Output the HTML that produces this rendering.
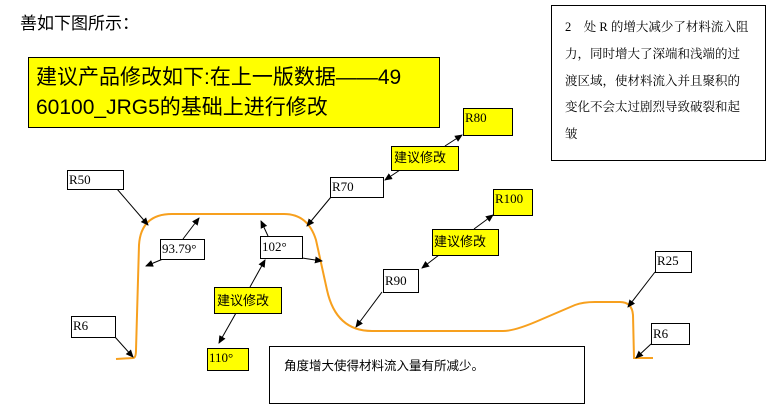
<!DOCTYPE html>
<html><head><meta charset="utf-8"><style>
html,body{margin:0;padding:0;background:#fff;}
svg{display:block;}
text{font-family:"Liberation Serif","Noto Serif CJK SC","Noto Sans CJK SC",serif;fill:#000;}
.cj{font-family:"Liberation Sans","Noto Sans CJK SC",sans-serif;}
</style></head><body>
<svg width="773" height="406" viewBox="0 0 773 406" xmlns="http://www.w3.org/2000/svg">
<defs><marker id="a" markerWidth="8" markerHeight="8" refX="7" refY="4" orient="auto" markerUnits="userSpaceOnUse"><path d="M0,0.5 L8,4 L0,7.5z" fill="#000"/></marker></defs>
<text x="20" y="29" font-size="17" class="cj">善如下图所示：</text>
<rect x="28.5" y="57.5" width="411" height="70" fill="#ffff00" stroke="#000"/>
<text x="36" y="84" font-size="21" class="cj">建议产品修改如下:在上一版数据——49</text>
<text x="36" y="114" font-size="21" class="cj">60100_JRG5的基础上进行修改</text>
<rect x="551.5" y="5.5" width="214" height="155" fill="#fff" stroke="#000"/>
<g font-size="12.5" class="cj">
<text x="565" y="31">2　处 R 的增大减少了材料流入阻</text>
<text x="565" y="58">力，同时增大了深端和浅端的过</text>
<text x="565" y="85">渡区域，使材料流入并且聚积的</text>
<text x="565" y="111">变化不会太过剧烈导致破裂和起</text>
<text x="565" y="138">皱</text>
</g>
<path d="M116,359 L133,358 Q136,358 136,350 L139,245 Q141,214 172,214 L284,214 Q308,214 316,240 L327,290 Q336,331 372,331 L503,331 Q515,331 540,320 L575,305 Q583,302 595,302 L620,302 Q632,302 633,315 L634,358 L653,358" fill="none" stroke="#f7a01e" stroke-width="2"/>
<rect x="269.5" y="346.5" width="315" height="57" fill="#fff" stroke="#000"/>
<text x="284" y="370" font-size="12.5" class="cj">角度增大使得材料流入量有所减少。</text>
<g stroke="#000" stroke-width="1" fill="none" marker-end="url(#a)">
<line x1="117" y1="189" x2="148" y2="225"/>
<line x1="183" y1="239" x2="199" y2="218"/>
<line x1="163" y1="259" x2="146" y2="266"/>
<line x1="268" y1="236" x2="261" y2="221"/>
<line x1="302" y1="258" x2="322" y2="261"/>
<line x1="250" y1="287" x2="265" y2="260"/>
<line x1="236" y1="313" x2="219" y2="343"/>
<line x1="331" y1="197" x2="307" y2="226"/>
<line x1="445" y1="146" x2="462" y2="135"/>
<line x1="400" y1="170" x2="385" y2="180"/>
<line x1="474" y1="229" x2="493" y2="215"/>
<line x1="439" y1="255" x2="422" y2="268"/>
<line x1="382" y1="292" x2="356" y2="327"/>
<line x1="655" y1="272" x2="628" y2="307"/>
<line x1="651" y1="344" x2="636" y2="358"/>
<line x1="115" y1="337" x2="133" y2="357"/>
</g>
<g stroke="#000" stroke-width="1">
<rect x="67.5" y="170.5" width="56" height="19" fill="#fff"/>
<rect x="160.5" y="239.5" width="44" height="20" fill="#fff"/>
<rect x="260.5" y="236.5" width="42" height="22" fill="#fff"/>
<rect x="214.5" y="287.5" width="67" height="26" fill="#ffff00"/>
<rect x="207.5" y="348.5" width="41" height="22" fill="#ffff00"/>
<rect x="71.5" y="316.5" width="44" height="21" fill="#fff"/>
<rect x="330.5" y="177.5" width="53" height="20" fill="#fff"/>
<rect x="391.5" y="146.5" width="67" height="24" fill="#ffff00"/>
<rect x="463.5" y="108.5" width="49" height="27" fill="#ffff00"/>
<rect x="493.5" y="189.5" width="39" height="26" fill="#ffff00"/>
<rect x="432.5" y="229.5" width="66" height="26" fill="#ffff00"/>
<rect x="383.5" y="269.5" width="35" height="23" fill="#fff"/>
<rect x="655.5" y="251.5" width="36" height="21" fill="#fff"/>
<rect x="651.5" y="323.5" width="38" height="21" fill="#fff"/>
</g>
<g font-size="13">
<text x="69" y="184">R50</text>
<text x="162" y="253">93.79°</text>
<text x="262" y="251">102°</text>
<text x="217" y="305" class="cj" font-size="13">建议修改</text>
<text x="209" y="362">110°</text>
<text x="73" y="330">R6</text>
<text x="332" y="191">R70</text>
<text x="394" y="162" class="cj" font-size="13">建议修改</text>
<text x="465" y="122">R80</text>
<text x="495" y="203">R100</text>
<text x="434" y="246" class="cj" font-size="13">建议修改</text>
<text x="385" y="285">R90</text>
<text x="657" y="265">R25</text>
<text x="653" y="338">R6</text>
</g>
</svg>
</body></html>
